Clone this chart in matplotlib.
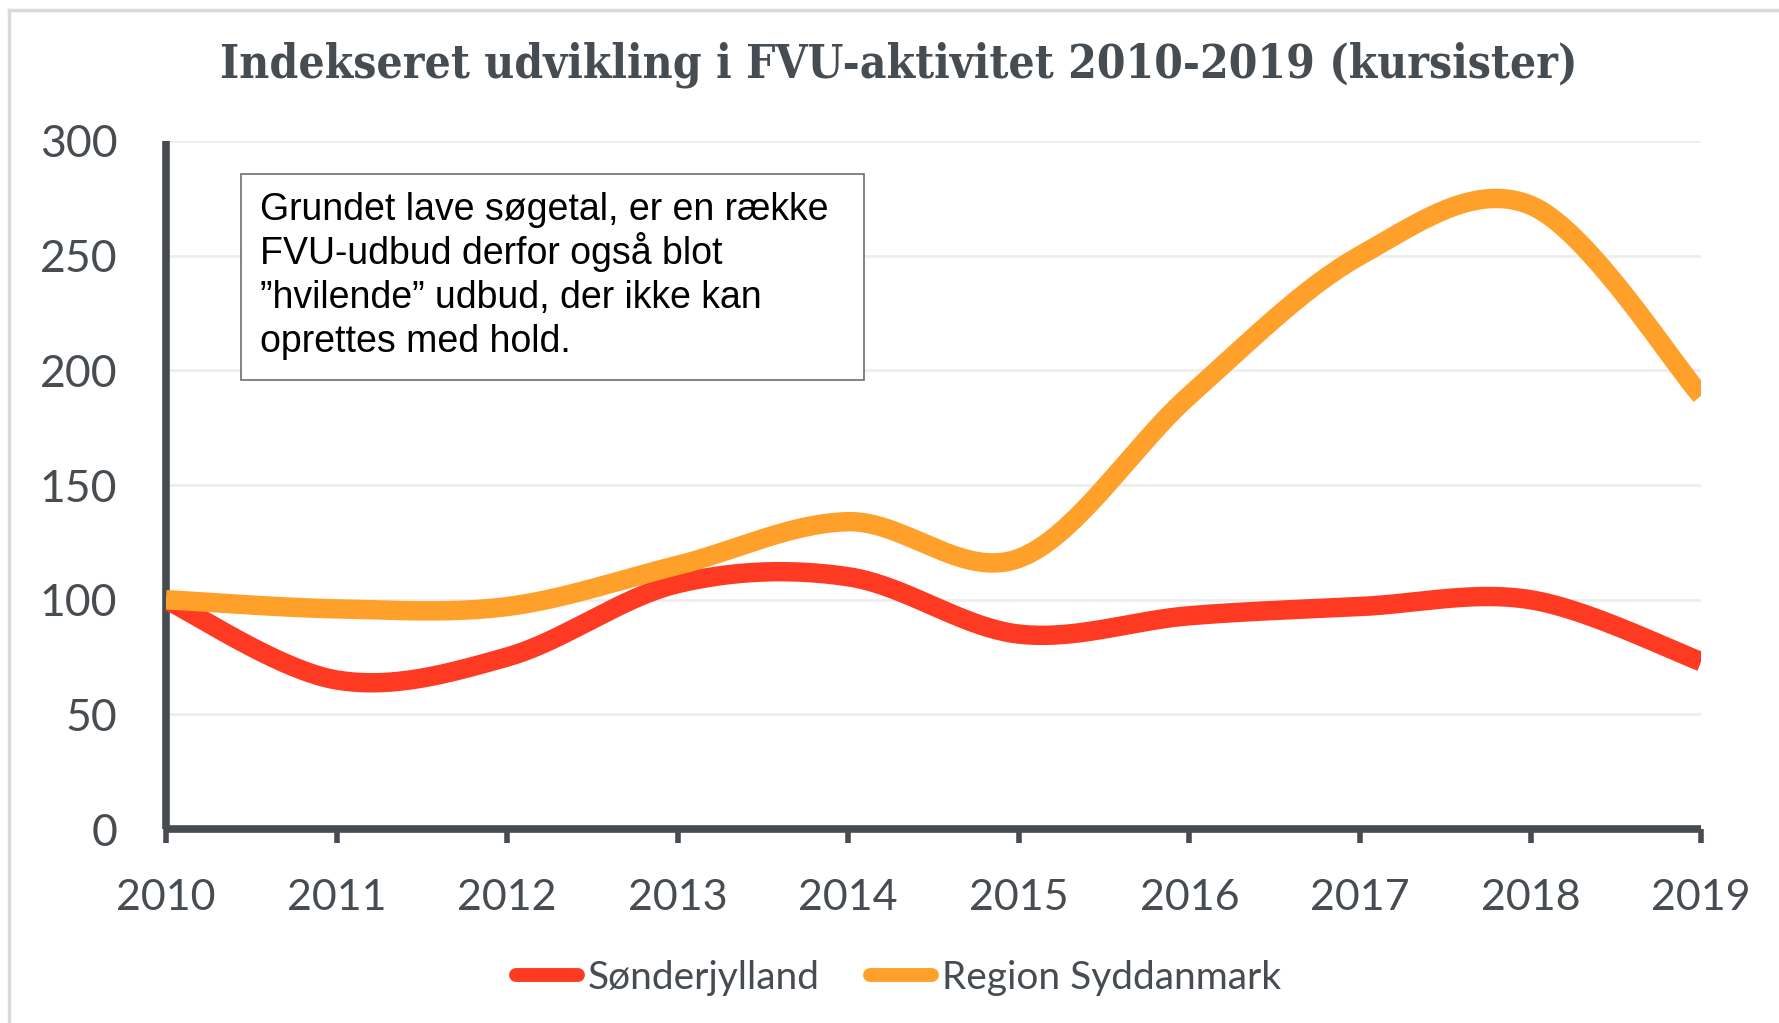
import matplotlib
matplotlib.use("Agg")
import matplotlib.pyplot as plt
import numpy as np
from matplotlib.lines import Line2D
from matplotlib.patches import Rectangle

years = [2010, 2011, 2012, 2013, 2014, 2015, 2016, 2017, 2018, 2019]
soenderjylland = [100, 65, 75, 107, 110, 85, 93, 97, 100, 73]
region_syd = [100, 96, 97, 115, 134, 118, 189, 250, 272, 189]
y_ticks = [0, 50, 100, 150, 200, 250, 300]

TITLE = "Indekseret udvikling i FVU-aktivitet 2010-2019 (kursister)"
NOTE_LINES = [
    "Grundet lave søgetal, er en række",
    "FVU-udbud derfor også blot",
    "”hvilende” udbud, der ikke kan",
    "oprettes med hold.",
]

RED = "#ff3a22"
ORANGE = "#ffa02a"
DARK = "#464c51"
TEXT_GRAY = "#474c51"


def smooth(x, y, n=40):
    # Excel-style smoothed line: cubic bezier segments (catmull-rom tangents)
    x = np.asarray(x, float)
    y = np.asarray(y, float)
    pts = np.column_stack([x, y])
    ext = np.vstack([pts[0], pts, pts[-1]])
    t = np.linspace(0, 1, n)[:, None]
    out = []
    for i in range(len(pts) - 1):
        p0, p3 = ext[i + 1], ext[i + 2]
        p1 = p0 + (ext[i + 2] - ext[i]) / 6
        p2 = p3 - (ext[i + 3] - ext[i + 1]) / 6
        seg = ((1 - t) ** 3) * p0 + 3 * ((1 - t) ** 2) * t * p1 + 3 * (1 - t) * t ** 2 * p2 + t ** 3 * p3
        out.append(seg if i == 0 else seg[1:])
    out = np.vstack(out)
    return out[:, 0], out[:, 1]


fig = plt.figure(figsize=(17.79, 10.23), dpi=100)
ax = fig.add_axes([0.0933, 0.1896, 0.8629, 0.6726])

# grid lines
for v in y_ticks[1:]:
    ax.axhline(v, color="#eeeeee", lw=2, zorder=0)

sx, sy = smooth(years, soenderjylland)
ax.plot(sx, sy, color=RED, lw=14, solid_capstyle="butt", label="Sønderjylland", zorder=3)
rx, ry = smooth(years, region_syd)
ax.plot(rx, ry, color=ORANGE, lw=14, solid_capstyle="butt", label="Region Syddanmark", zorder=4)

ax.set_xlim(2010, 2019)
ax.set_ylim(0, 300)
ax.set_xticks(years)
ax.set_yticks(y_ticks)

for s in ["top", "right"]:
    ax.spines[s].set_visible(False)
for s in ["left", "bottom"]:
    ax.spines[s].set_color(DARK)
    ax.spines[s].set_linewidth(5.5)
    ax.spines[s].set_capstyle("butt")

ax.tick_params(axis="x", length=10, width=4, color=DARK, pad=26,
               labelsize=31, labelcolor=TEXT_GRAY)
ax.tick_params(axis="y", length=0, pad=35, labelsize=32, labelcolor=TEXT_GRAY)
for lab in ax.get_xticklabels() + ax.get_yticklabels():
    lab.set_family("Lato")

# legend
leg_handles = [
    Line2D([], [], color=RED, lw=10, solid_capstyle="round"),
    Line2D([], [], color=ORANGE, lw=10, solid_capstyle="round"),
]
leg = fig.legend(leg_handles, ["Sønderjylland", "Region Syddanmark"],
                 loc="center", bbox_to_anchor=(0.505, 0.044), ncol=2,
                 frameon=False, handlelength=1.6, handletextpad=0.25,
                 columnspacing=1.3,
                 prop={"family": "Lato", "size": 28})
for t in leg.get_texts():
    t.set_color(TEXT_GRAY)

# title
fig.text(0.505, 0.937, TITLE, ha="center", va="center", fontsize=33,
         fontweight="bold", color="#454c52", family="DejaVu Serif",
         fontstretch="condensed")

# note box
fig.add_artist(Rectangle((241 / 1779, 1 - 380 / 1023), 623 / 1779, 206 / 1023,
                         transform=fig.transFigure, facecolor="white",
                         edgecolor="#6e6e6e", lw=1.2, zorder=5))
for i, line in enumerate(NOTE_LINES):
    fig.text(260 / 1779, 1 - (220 + i * 44) / 1023, line, ha="left",
             va="baseline", fontsize=27, color="black",
             family="Liberation Sans", zorder=6)

# outer frame (top and left edges)
fig.add_artist(Line2D([9 / 1779, 1], [1 - 10 / 1023, 1 - 10 / 1023],
                      transform=fig.transFigure, color="#d9d9d9", lw=2.5))
fig.add_artist(Line2D([9 / 1779, 9 / 1779], [0, 1 - 10 / 1023],
                      transform=fig.transFigure, color="#d9d9d9", lw=2.5))

fig.savefig("out.png", dpi=100, facecolor="white")
